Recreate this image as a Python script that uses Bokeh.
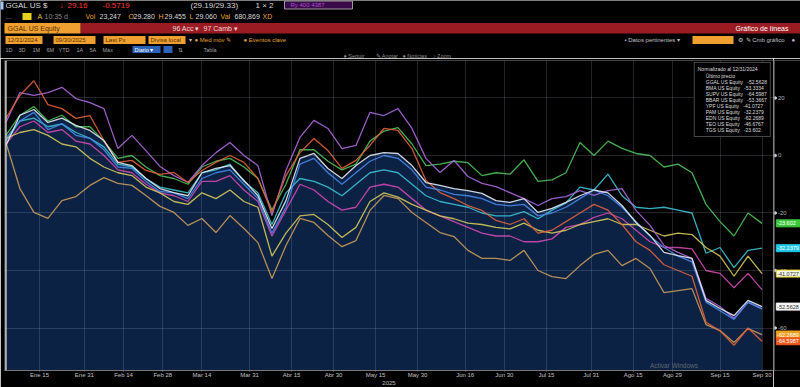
import pandas as pd
from bokeh.plotting import figure
from bokeh.layouts import column, row
from bokeh.models import (Range1d, FixedTicker, Label, Legend, LegendItem, Span,
                          ColumnDataSource)
from bokeh.core.properties import value
from bokeh.embed import file_html
from bokeh.resources import INLINE

FONT = "Liberation Sans"

# ------------------------------------------------------------------ data
dates = pd.date_range("2025-01-03", "2025-09-30", freq="5D")   # 55 sample dates

ggal = [3.5, 14, 16, 11.5, 13, 10.5, 8.7, 5.2, -2.4, -3.5,
        -8, -11.5, -12.9, -14, -6, -4.5, -3.5, -8.7, -14, -25.4,
        -15.7, -1, 0.7, -4.5, -8, -3.5, 0, 1, 0.7, -3.5,
        -9.4, -10.4, -11.5, -12.2, -13.2, -15.7, -16.3, -15, -19.8, -18.4,
        -16.3, -14, -12, -13, -17.4, -23.3, -27.8, -33.7, -34.8, -35.8,
        -50.4, -53.2, -55.7, -50.4, -52.5628]
bma = [6, 12, 15, 9, 11, 7, 6, 2, -4, -4.5,
       -9, -12.5, -13, -15, -8, -6, -5, -10, -15, -27,
       -18, -3, -1, -6, -10, -6, -2, 0, -1, -5,
       -11, -12, -13.5, -14, -15, -17, -17.5, -17, -21, -20,
       -18, -15, -12, -14, -18, -23, -28, -32, -35, -37,
       -51, -54, -57, -51, -53.3334]
supv = [12.9, 20.9, 26, 17.7, 16.3, 12.9, 13.9, 5.2, -2.4, -1.7,
        -5.2, -6.6, -5.9, -9.4, -5.2, -2.4, 0, -2.4, -8, -19.8,
        -7, 1, 5.9, 1.7, -4.5, -1.7, 3.5, 9.4, 8.7, 2.4,
        -8.7, -12.9, -15, -17.4, -19.1, -22.6, -24, -22, -27, -26,
        -23, -20, -17, -19, -24, -30, -33, -38, -40, -42,
        -58, -61, -66, -60, -64.5987]
bbar = [11.5, 21.9, 20.9, 21.9, 23.7, 19.8, 18.4, 16.3, 2.4, 7,
        1.7, -3.8, -7, -9.4, -3.5, 1, 4.5, 0, -3.5, -20.9,
        -5.2, 6.3, 12.2, 9.4, 2.4, 3.5, 15, 13.9, 16.3, 9.4,
        -1, -5.9, -1.7, -7.3, -9.7, -10.8, -12.9, -15, -17.4, -15,
        -14.3, -12.2, -13.9, -12.2, -11.5, -19.1, -24.3, -31.3, -33.7, -35.8,
        -49.7, -52.5, -56.7, -51.1, -53.3667]
ypf = [6, 8, 9, 7, 4, 3, -1, -4, -6, -7,
       -11, -13, -16, -17, -13, -15, -12, -16, -18, -35,
       -27, -21, -20.5, -24, -28.5, -25, -16, -13, -14.5, -17,
       -19, -21, -22, -23.5, -24, -25, -25.5, -23.5, -26, -27,
       -26, -24, -23, -22, -24, -24, -26, -28, -27, -27.5,
       -32, -35, -42, -35, -41.0727]
pam = [5, 12, 13, 10, 11, 8, 6, 3, -3, -4,
       -8, -11, -12, -13, -6, -5, -3, -9, -13, -24,
       -13, -8, -9, -11, -14, -10, -6, -5, -6, -10,
       -14, -16, -17, -18, -20, -21, -21, -19.5, -22, -19,
       -16.5, -11, -12, -6.5, -14, -18, -18.5, -18, -19, -20,
       -34, -32, -39, -33, -32.2379]
edn = [4.5, -11.5, -19.8, -21.9, -15.7, -14.3, -10.4, -7.7, -9.7, -10.4,
       -13.9, -17.7, -19.8, -24.3, -21.9, -26.8, -20.9, -25.4, -30.3, -42.8,
       -31.3, -21.9, -23.3, -27.8, -31.7, -29.6, -19.1, -13.9, -15, -19.8,
       -23.3, -26.8, -28.2, -33, -35.8, -35.8, -36.5, -33, -40, -42.1,
       -42.8, -38.3, -34.4, -33, -38.3, -35.8, -39.3, -47.7, -47, -46.3,
       -58.8, -60.9, -65, -60.2, -62.2689]
teo = [4, 10, 12, 8, 9, 5, 4, 0, -5, -6,
       -10, -13, -14, -16, -9, -9, -7, -12, -16, -28,
       -19, -10, -12, -16, -19, -18, -11, -10, -11, -15,
       -19, -21, -23, -25, -27, -28, -28, -30, -30, -29,
       -25, -24, -21.5, -20, -22, -26, -30, -32, -32, -32.5,
       -40, -41, -46, -41, -46.6767]
tgs = [7, 14, 17, 12, 14, 10, 10, 5, -1, 0,
       -4, -7, -8, -10, -4, -2, -1, -4, -8, -19,
       -10, 2, 2, -2, -5, -3, 5, 8.5, 9.7, 4,
       -3.5, -3, -2, -2.5, -7, -6, -6.5, -1.5, -9, -8.5,
       -6, 4.5, 0, 5, 2.5, 0.7, 0, -4, -3, -6,
       -17, -23, -28, -20, -23.602]

names = ["GGAL", "BMA", "SUPV", "BBAR", "YPF", "PAM", "EDN", "TEO", "TGS"]
series = [ggal, bma, supv, bbar, ypf, pam, edn, teo, tgs]
legend_colors = ["#f4f4f4", "#3f7fe0", "#f06030", "#b070e8", "#e8dc40",
                 "#30d0e0", "#f0a030", "#e040b8", "#50d060"]
line_colors = ["#e4eaf6", "#4a86e8", "#e0603a", "#a868d8", "#d4c85a",
               "#3cc0d0", "#c89a58", "#d048b0", "#4cc05a"]

tick_dates = ["2025-01-15", "2025-01-31", "2025-02-14", "2025-02-28", "2025-03-14",
              "2025-03-31", "2025-04-15", "2025-04-30", "2025-05-15", "2025-05-30",
              "2025-06-16", "2025-06-30", "2025-07-15", "2025-07-31", "2025-08-15",
              "2025-08-29", "2025-09-15", "2025-09-30"]
tick_labels = ["Ene 15", "Ene 31", "Feb 14", "Feb 28", "Mar 14", "Mar 31", "Abr 15",
               "Abr 30", "May 15", "May 30", "Jun 16", "Jun 30", "Jul 15", "Jul 31",
               "Ago 15", "Ago 29", "Sep 15", "Sep 30"]
y_ticks = [20, 0, -20, -40, -60]
y_tick_labels = ["20", "0", "-20", "-40", "-60"]

# right-edge value tags: (series name, background, border, text colour)
tags = [("TGS", "#3cc83c", "#3cc83c", "#ffffff"),
        ("PAM", "#20c8e8", "#20c8e8", "#ffffff"),
        ("YPF", "#f4f4e8", "#e8d020", "#333333"),
        ("GGAL", "#f4f4f4", "#f4f4f4", "#333333"),
        ("EDN", "#f0a020", "#f0a020", "#ffffff"),
        ("SUPV", "#f05a1e", "#f05a1e", "#ffffff")]


def fmt(v):
    return f"{v:.4f}".rstrip("0").rstrip(".")


def ms(t):
    return pd.Timestamp(t).value / 1e6


# ------------------------------------------------------------------ header
hdr = figure(width=800, height=58, x_range=Range1d(0, 800), y_range=Range1d(58, 0),
             output_backend="svg", toolbar_location=None, min_border=0,
             x_axis_location=None, y_axis_location=None,
             background_fill_color="black", border_fill_color="black",
             outline_line_color=None)
hdr.grid.visible = False

boxes = dict(
    left=[80, 4, 0, 22, 5, 53, 103, 148, 692, 132, 163],
    right=[800, 80, 3, 31, 42, 95, 145, 185, 733, 160, 172],
    top=[22.5, 22.5, 1, 12.5, 35.5, 35.5, 35.5, 35.5, 35.5, 45.5, 45.5],
    bottom=[33, 33, 9, 19.5, 43.5, 43.5, 43.5, 43.5, 43.5, 52.5, 52.5],
    color=["#9a1b22", "#f0a030", "#9fc8ff", "#e8d020", "#f0a030", "#f0a030",
           "#f0a030", "#f0a030", "#f0a030", "#2a63b8", "#2a63b8"])
hdr.quad(source=ColumnDataSource(boxes), left="left", right="right", top="top",
         bottom="bottom", fill_color="color", line_color=None)
hdr.quad(left=[284], right=[352], top=[0.5], bottom=[8.5], fill_color="#3a0a4a",
         line_color="#9a9a9a", line_width=1)


def htext(items, size, align="left", style="normal"):
    src = ColumnDataSource(dict(x=[i[0] for i in items], y=[i[1] for i in items],
                                text=[i[2] for i in items], color=[i[3] for i in items]))
    hdr.text(x="x", y="y", text="text", text_color="color", source=src,
             text_font=value(FONT), text_font_size=value(size),
             text_font_style=style, text_baseline="middle", text_align=align)


htext([(5, 5, "GGAL US $", "#d8d8d8"), (59, 5, "↓", "#ff3535"),
       (67, 5, "29.16", "#ff3535"), (102, 5, "-0.5719", "#ff3535"),
       (190, 5, "(29.19/29.33)", "#d8d8d8"), (255, 5, "1 × 2", "#d8d8d8")], "8px")
htext([(290, 4.8, "Ry 400 4387", "#b050d0")], "6px")
htext([(5, 16, "…", "#a0a0a0"), (37, 16, "A", "#e8c020"), (44, 16, "10:35 d", "#8a8a8a"),
       (85, 16, "Vol", "#e8a020"), (99, 16, "23,247", "#d8d8d8"),
       (128, 16, "O", "#e8a020"), (133, 16, "29.280", "#d8d8d8"),
       (158, 16, "H", "#e8a020"), (164, 16, "29.455", "#d8d8d8"),
       (189, 16, "L", "#e8a020"), (195, 16, "29.060", "#d8d8d8"),
       (220, 16, "Val", "#e8a020"), (234, 16, "680,869", "#d8d8d8"),
       (262, 16, "XD", "#e8a020")], "7px")
htext([(7, 28, "GGAL US Equity", "#5a3000"), (172, 28, "96 Acc ▾", "#f2d6d6"),
       (203, 28, "97 Camb ▾", "#f2d6d6")], "7px")
htext([(788, 28, "Gráfico de líneas", "#ffffff")], "7px", align="right")
htext([(7, 39.5, "12/31/2024", "#5a3000"), (55, 39.5, "09/30/2025", "#5a3000"),
       (105, 39.5, "Last Px", "#5a3000"), (150, 39.5, "Divisa local", "#5a3000"),
       (188, 39.5, "▾", "#c0c0c0"), (194, 39.5, "● Med móv ✎", "#e0a030"),
       (243, 39.5, "● Eventos clave", "#e0a030"),
       (624, 39.5, "• Datos pertinentes ▾", "#c0c0c0"), (737, 39.5, "⚙", "#c0c0c0"),
       (745, 39.5, "✎ Cmb gráfico", "#c0c0c0"), (791, 39.5, "●", "#c0c0c0")], "6px")
htext([(5, 49, "1D", "#a0a0a0"), (18, 49, "3D", "#a0a0a0"), (32, 49, "1M", "#a0a0a0"),
       (46, 49, "6M", "#a0a0a0"), (58, 49, "YTD", "#a0a0a0"), (76, 49, "1A", "#a0a0a0"),
       (89, 49, "5A", "#a0a0a0"), (102, 49, "Máx", "#a0a0a0"),
       (134, 49, "Diario ▾", "#ffffff"), (177, 49, "⇅", "#a0a0a0"),
       (203, 49, "Tabla", "#a0a0a0")], "5.5px")
htext([(343, 55.5, "● Seguir", "#8a8a8a"), (375, 55.5, "✎ Anotar", "#8a8a8a"),
       (402, 55.5, "● Noticias", "#8a8a8a"), (432, 55.5, "⌕ Zoom", "#8a8a8a")], "5.5px")

# ------------------------------------------------------------------ chart
x0 = pd.Timestamp("2025-01-02 12:00")
x1 = x0 + pd.Timedelta(days=274.6)
yr = Range1d(-74.78, 33.04)
p = figure(width=773, height=329, x_axis_type="datetime",
           x_range=Range1d(x0, x1), y_range=yr,
           x_axis_location="below", y_axis_location=None,
           output_backend="svg", toolbar_location=None,
           min_border_left=4, min_border_right=0, min_border_top=2, min_border_bottom=17,
           background_fill_color="black", border_fill_color="black",
           outline_line_color=None)

src = ColumnDataSource(dict(date=dates, **{n: s for n, s in zip(names, series)}))

p.varea(x="date", y1=-80, y2="GGAL", source=src, fill_color="#0c2449", fill_alpha=0.95)

order = ["TGS", "TEO", "EDN", "PAM", "YPF", "BBAR", "SUPV", "BMA", "GGAL"]
for n in order:
    i = names.index(n)
    p.line(x="date", y=n, source=src, line_color=line_colors[i], line_width=1.3,
           line_alpha=0.9)

p.add_layout(Span(location=ms(x0) + 12 * 3600e3, dimension="height",
                  line_color="#d0d0d0", line_width=1.5))


def style_xaxis(ax, hidden=False):
    ax.axis_line_color = None if hidden else "#777777"
    ax.major_tick_line_color = None if hidden else "#777777"
    ax.major_tick_out = 1
    ax.major_tick_in = 0
    ax.minor_tick_line_color = None
    ax.major_label_text_color = "#c0c0c0"
    ax.major_label_text_alpha = 0 if hidden else 1
    ax.major_label_text_font = FONT
    ax.major_label_text_font_size = "6px"
    ax.major_label_standoff = 0
    ax.axis_label = "2025"
    ax.axis_label_text_font = FONT
    ax.axis_label_text_font_size = "6px"
    ax.axis_label_text_color = "#c0c0c0"
    ax.axis_label_text_alpha = 0 if hidden else 1
    ax.axis_label_text_font_style = "normal"
    ax.axis_label_standoff = 0


xa = p.xaxis[0]
xa.ticker = FixedTicker(ticks=[ms(d) for d in tick_dates])
xa.major_label_overrides = {ms(d): lab for d, lab in zip(tick_dates, tick_labels)}
style_xaxis(xa)

p.xgrid.grid_line_color = "#9aa4b4"
p.xgrid.grid_line_alpha = 0.22
p.xgrid.level = "guide"
p.ygrid.visible = False
p.hspan(y=y_ticks, line_color="#9aa4b4", line_alpha=0.22, line_width=1)

# legend
blank = p.quad(left=[], right=[], top=[], bottom=[], fill_alpha=0, line_alpha=0)
items = [LegendItem(label="Último precio", renderers=[blank])]
for n, s, c in zip(names, series, legend_colors):
    r = p.quad(left=[], right=[], top=[], bottom=[], fill_color=c, line_color=c)
    items.append(LegendItem(label=f"{n} US Equity\u00a0\u00a0\u00a0{fmt(s[-1])}",
                            renderers=[r]))
leg = Legend(items=items, location="top_right", title="Normalizado al 12/31/2024",
             title_text_font=FONT, title_text_font_size="5px", title_text_color="#dddddd",
             title_text_font_style="normal", title_standoff=1,
             label_text_font=FONT, label_text_font_size="5px", label_text_color="#dddddd",
             label_height=5, label_standoff=3, glyph_height=5, glyph_width=5,
             spacing=0, padding=3, margin=2,
             background_fill_color="black", background_fill_alpha=1,
             border_line_color="#8a8a8a", border_line_width=1)
p.add_layout(leg)

p.add_layout(Label(x=ms("2025-08-21"), y=-73.2, text="Activar Windows", text_font=FONT,
                   text_font_size="6.5px", text_color="#7a7a7a", text_baseline="middle",
                   text_alpha=0.8))

# ------------------------------------------------------------------ right value axis + tags
side = figure(width=27, height=329, x_range=Range1d(0, 27), y_range=yr,
              x_axis_location="below", y_axis_location=None,
              output_backend="svg", toolbar_location=None,
              min_border_left=0, min_border_right=0, min_border_top=2, min_border_bottom=17,
              background_fill_color="black", border_fill_color="black",
              outline_line_color=None)
side.grid.visible = False
sa = side.xaxis[0]
sa.ticker = FixedTicker(ticks=[13.5])
sa.major_label_overrides = {13.5: "Ene 15"}
style_xaxis(sa, hidden=True)

side.add_layout(Span(location=0.5, dimension="height", line_color="#8a8a8a", line_width=1))
side.scatter(x=[1.8] * len(y_ticks), y=y_ticks, size=2.5, color="#cccccc")
side.text(x=[4.5] * len(y_ticks), y=y_ticks, text=y_tick_labels, text_color="#b0b0b0",
          text_font=value(FONT), text_font_size=value("6px"), text_baseline="middle")

tag_src = ColumnDataSource(dict(
    y=[series[names.index(t[0])][-1] for t in tags],
    text=[fmt(series[names.index(t[0])][-1]) for t in tags],
    bg=[t[1] for t in tags], bd=[t[2] for t in tags], tc=[t[3] for t in tags]))
side.rect(x=14.8, y="y", width=24, height=7, height_units="screen", source=tag_src,
          fill_color="bg", line_color="bd")
side.text(x=3.6, y="y", text="text", text_color="tc", source=tag_src,
          text_font=value(FONT), text_font_size=value("5.5px"), text_baseline="middle")

layout = column(hdr, row(p, side))
open("out.html", "w").write(file_html(layout, INLINE, title="GGAL US Equity - Gráfico de líneas"))
